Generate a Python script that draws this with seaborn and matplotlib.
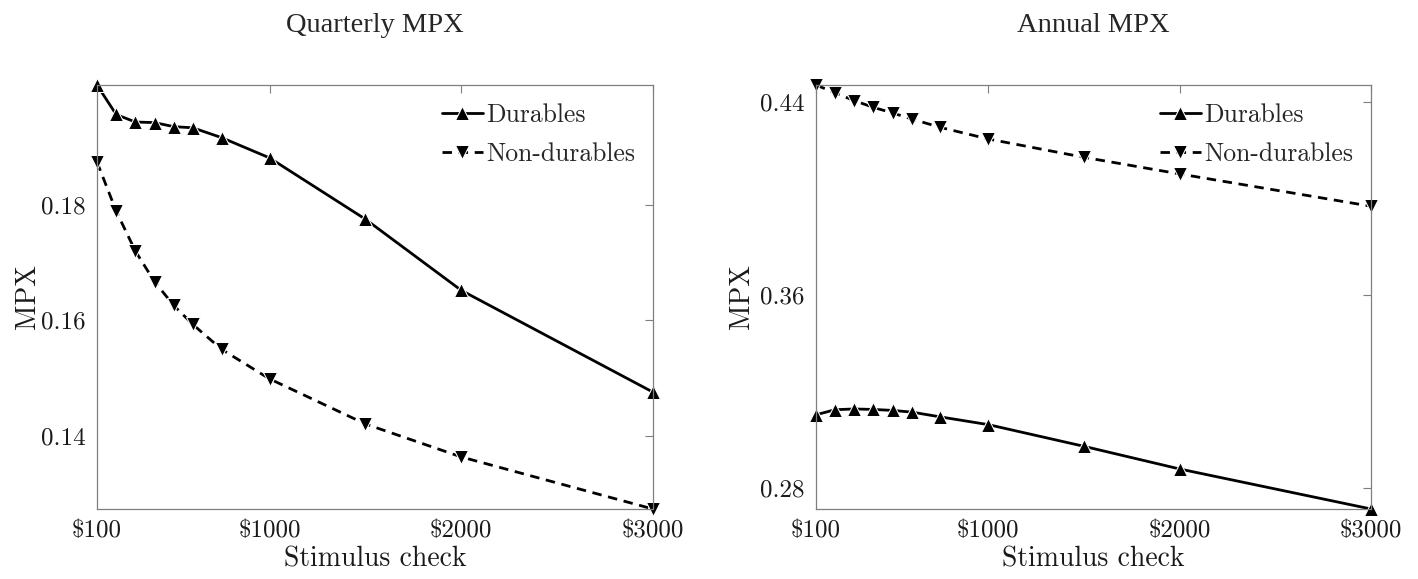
import matplotlib
matplotlib.use("Agg")
import matplotlib.pyplot as plt
import numpy as np
import pandas as pd
import seaborn as sns

# stimulus check sizes (dollars)
checks = [100, 200, 300, 400, 500, 600, 750, 1000, 1500, 2000, 3000]

# quarterly MPX
q_durables = [0.2007, 0.1956, 0.1943, 0.1942, 0.1935, 0.1933, 0.1916, 0.1881, 0.1775, 0.1652, 0.1476]
q_nondurables = [0.1874, 0.1789, 0.1720, 0.1667, 0.1626, 0.1593, 0.1550, 0.1499, 0.1421, 0.1364, 0.1274]

# annual MPX
a_durables = [0.3104, 0.3125, 0.3128, 0.3126, 0.3122, 0.3115, 0.3095, 0.3063, 0.2973, 0.2879, 0.2713]
a_nondurables = [0.4472, 0.4439, 0.4407, 0.4379, 0.4356, 0.4331, 0.4296, 0.4248, 0.4172, 0.4103, 0.3969]

xticks = [100, 1000, 2000, 3000]
xtick_labels = [r"\$100", r"\$1000", r"\$2000", r"\$3000"]
q_yticks = [0.14, 0.16, 0.18]
a_yticks = [0.28, 0.36, 0.44]

series_names = ["Durables", "Non-durables"]
titles = ["Quarterly MPX", "Annual MPX"]


def make_df(dur, nondur):
    return pd.DataFrame({
        "check": checks * 2,
        "mpx": dur + nondur,
        "series": [series_names[0]] * len(checks) + [series_names[1]] * len(checks),
    })


sns.set_style("white")
plt.rcParams["font.family"] = ["cmr10", "DejaVu Serif"]
plt.rcParams["axes.formatter.use_mathtext"] = True

fig = plt.figure(figsize=(14.18, 5.79), dpi=100)
ax1 = fig.add_axes([0.0684, 0.1209, 0.3921, 0.7323])
ax2 = fig.add_axes([0.5755, 0.1209, 0.3914, 0.7323])

panels = [
    (ax1, make_df(q_durables, q_nondurables), q_yticks, titles[0], 0),
    (ax2, make_df(a_durables, a_nondurables), a_yticks, titles[1], 4),
]

for ax, df, yt, title, lpad in panels:
    sns.lineplot(
        data=df, x="check", y="mpx", style="series",
        markers={"Durables": "^", "Non-durables": "v"},
        dashes={"Durables": "", "Non-durables": (3.4, 2.4)},
        color="black", linewidth=2.0, markersize=10,
        ax=ax, clip_on=False,
    )
    ax.set_xlim(checks[0], checks[-1])
    ax.set_ylim(df["mpx"].min(), df["mpx"].max())
    ax.set_xticks(xticks)
    ax.set_xticklabels(xtick_labels)
    ax.set_yticks(yt)
    ax.set_yticklabels([f"{v:.2f}" for v in yt])
    ax.tick_params(direction="in", top=True, right=True, length=6,
                   width=0.8, color="#7f7f7f", labelsize=18, pad=8,
                   labelcolor="#1a1a1a")
    for sp in ax.spines.values():
        sp.set_color("#7f7f7f")
        sp.set_linewidth(0.9)
    ax.set_xlabel("Stimulus check", fontsize=20, labelpad=3, color="#1a1a1a")
    ax.set_ylabel("MPX", fontsize=20, labelpad=lpad, color="#1a1a1a")
    ax.set_title(title, fontsize=20.5, pad=38, family=["Liberation Serif"])
    handles, labels = ax.get_legend_handles_labels()
    ax.legend(handles, labels, loc="upper right", frameon=False, fontsize=18.5,
              handlelength=1.6, handletextpad=0.12, labelspacing=0.62,
              borderaxespad=0.3)

fig.savefig("out.png", dpi=100)
